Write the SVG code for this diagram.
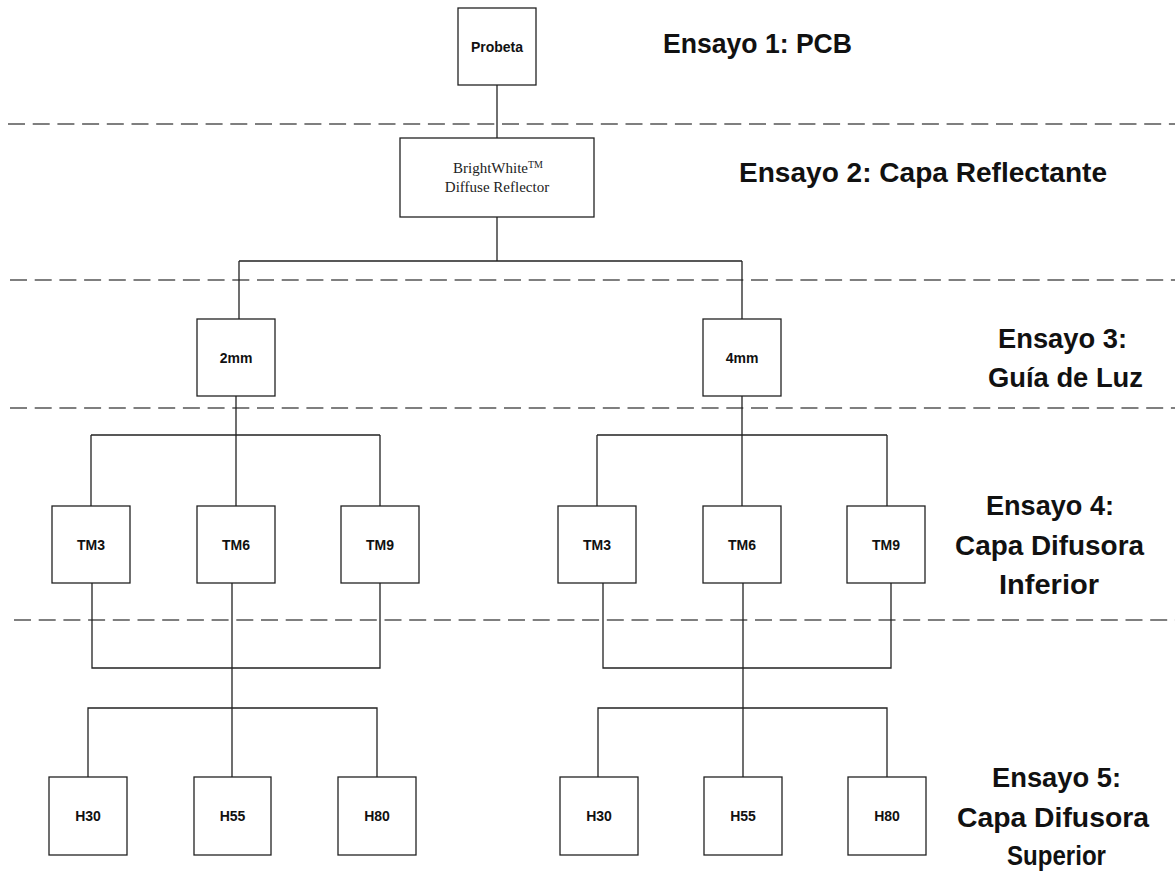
<svg xmlns="http://www.w3.org/2000/svg" width="1175" height="872" viewBox="0 0 1175 872">
<style>
.box{fill:#fff;stroke:#222;stroke-width:1.3}
.lbl{font-family:"Liberation Sans",Arial,sans-serif;font-weight:bold;font-size:14px;text-anchor:middle;fill:#111}
.ser{font-family:"Liberation Serif","Times New Roman",serif;font-size:15px;text-anchor:middle;fill:#222}
.title{font-family:"Liberation Sans",Arial,sans-serif;font-weight:bold;font-size:28px;fill:#111}
.dash{stroke:#555;stroke-width:1.3;stroke-dasharray:17 7.7;fill:none}
.con{stroke:#222;stroke-width:1.3;fill:none}
</style>
<rect width="1175" height="872" fill="#fff"/>
<g id="separators">
<line class="dash" x1="8" y1="124" x2="1175" y2="124"/>
<line class="dash" x1="10" y1="280" x2="1175" y2="280"/>
<line class="dash" x1="10" y1="408" x2="1175" y2="408"/>
<line class="dash" x1="14" y1="620" x2="1175" y2="620"/>
</g>
<g id="connectors">
<path class="con" d="M497 85V138"/>
<path class="con" d="M497 217V261M239 261H742M239 261V319M742 261V319"/>
<path class="con" d="M236 396V506M91 435H380M91 435V506M380 435V506"/>
<path class="con" d="M742 396V506M597 435H887M597 435V506M887 435V506"/>
<path class="con" d="M92 583V668H380V583M232 583V777M88 777V708H377V777"/>
<path class="con" d="M603 583V668H891V583M743 583V777M598 777V708H887V777"/>
</g>
<g id="n-probeta"><rect class="box" x="458" y="8" width="78" height="77"/><text class="lbl" x="497" y="51.5">Probeta</text></g>
<g id="n-reflector"><rect class="box" x="400" y="138" width="194" height="79"/>
<text class="ser" x="498" y="173">BrightWhite<tspan font-size="10" dy="-5">TM</tspan></text>
<text class="ser" x="497" y="192">Diffuse Reflector</text></g>
<g id="n-2mm"><rect class="box" x="197" y="319" width="78" height="77"/><text class="lbl" x="236" y="362.5">2mm</text></g>
<g id="n-4mm"><rect class="box" x="703" y="319" width="78" height="77"/><text class="lbl" x="742" y="362.5">4mm</text></g>
<g id="n-tm3-a"><rect class="box" x="52" y="506" width="78" height="77"/><text class="lbl" x="91" y="549.5">TM3</text></g>
<g id="n-tm6-a"><rect class="box" x="197" y="506" width="78" height="77"/><text class="lbl" x="236" y="549.5">TM6</text></g>
<g id="n-tm9-a"><rect class="box" x="341" y="506" width="78" height="77"/><text class="lbl" x="380" y="549.5">TM9</text></g>
<g id="n-tm3-b"><rect class="box" x="558" y="506" width="78" height="77"/><text class="lbl" x="597" y="549.5">TM3</text></g>
<g id="n-tm6-b"><rect class="box" x="703" y="506" width="78" height="77"/><text class="lbl" x="742" y="549.5">TM6</text></g>
<g id="n-tm9-b"><rect class="box" x="847" y="506" width="78" height="77"/><text class="lbl" x="886" y="549.5">TM9</text></g>
<g id="n-h30-a"><rect class="box" x="49" y="777" width="78" height="78"/><text class="lbl" x="88" y="821">H30</text></g>
<g id="n-h55-a"><rect class="box" x="194" y="777" width="77" height="78"/><text class="lbl" x="232.5" y="821">H55</text></g>
<g id="n-h80-a"><rect class="box" x="338" y="777" width="78" height="78"/><text class="lbl" x="377" y="821">H80</text></g>
<g id="n-h30-b"><rect class="box" x="560" y="777" width="78" height="78"/><text class="lbl" x="599" y="821">H30</text></g>
<g id="n-h55-b"><rect class="box" x="704" y="777" width="78" height="78"/><text class="lbl" x="743" y="821">H55</text></g>
<g id="n-h80-b"><rect class="box" x="848" y="777" width="78" height="78"/><text class="lbl" x="887" y="821">H80</text></g>
<g id="titles">
<text class="title" x="663" y="53" textLength="189" lengthAdjust="spacingAndGlyphs">Ensayo 1: PCB</text>
<text class="title" x="739" y="182" textLength="368" lengthAdjust="spacingAndGlyphs">Ensayo 2: Capa Reflectante</text>
<text class="title" x="998" y="348" textLength="129" lengthAdjust="spacingAndGlyphs">Ensayo 3:</text>
<text class="title" x="988" y="387" textLength="155" lengthAdjust="spacingAndGlyphs">Guía de Luz</text>
<text class="title" x="986" y="515" textLength="128" lengthAdjust="spacingAndGlyphs">Ensayo 4:</text>
<text class="title" x="955" y="555" textLength="189" lengthAdjust="spacingAndGlyphs">Capa Difusora</text>
<text class="title" x="999" y="594" textLength="100" lengthAdjust="spacingAndGlyphs">Inferior</text>
<text class="title" x="992" y="787" textLength="129" lengthAdjust="spacingAndGlyphs">Ensayo 5:</text>
<text class="title" x="957" y="827" textLength="192" lengthAdjust="spacingAndGlyphs">Capa Difusora</text>
<text class="title" x="1007" y="865" textLength="99" lengthAdjust="spacingAndGlyphs">Superior</text>
</g>
</svg>
